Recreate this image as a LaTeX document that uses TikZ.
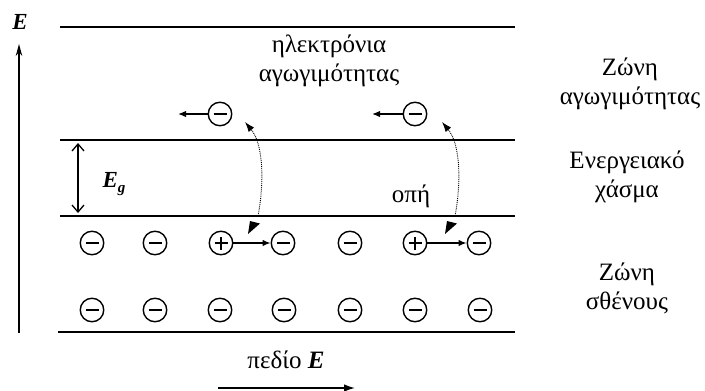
\documentclass[tikz,border=0pt]{standalone}
\usepackage{fontspec}
\setmainfont{Liberation Serif}
\usetikzlibrary{arrows.meta}
\tikzset{
  band/.style={line width=2.2pt},
  charge/.style={circle, draw, line width=1.4pt, minimum size=23.5pt, inner sep=0pt},
  negq/.style={charge, path picture={\draw[line width=1.4pt]
      ([xshift=-6.5pt]path picture bounding box.center) -- ([xshift=6.5pt]path picture bounding box.center);}},
  posq/.style={charge, path picture={\draw[line width=1.4pt]
      ([xshift=-6.5pt]path picture bounding box.center) -- ([xshift=6.5pt]path picture bounding box.center)
      ([yshift=-6.5pt]path picture bounding box.center) -- ([yshift=6.5pt]path picture bounding box.center);}},
  flow/.style={line width=1.4pt, -{Latex[length=8pt,width=6.5pt]}},
  jump/.style={line width=0.9pt, densely dotted, -{Latex[length=10pt,width=7pt]}},
  lbl/.style={font=\fontsize{25}{29}\selectfont, align=center, inner sep=0pt},
  sym/.style={font=\fontsize{23}{26}\selectfont\bfseries\itshape, inner sep=0pt},
}
\begin{document}
\begin{tikzpicture}[x=1pt,y=-1pt]
\useasboundingbox (0,0) rectangle (705,391);

% energy axis
\coordinate (axb) at (19,333);
\coordinate (axt) at (19,44);
\draw[line width=1.3pt, -{Stealth[length=12pt,width=6.5pt]}] (axb) -- (axt);
\node[sym] (E) at (20,22) {E};

% band edges
\coordinate (t1) at (60,27);  \coordinate (t2) at (515,27);
\coordinate (c1) at (60,140); \coordinate (c2) at (515,140);
\coordinate (v1) at (60,216); \coordinate (v2) at (515,216);
\coordinate (b1) at (58,332); \coordinate (b2) at (515,332);
\draw[band] (t1) -- (t2);
\draw[band] (c1) -- (c2);
\draw[band] (v1) -- (v2);
\draw[band] (b1) -- (b2);

% band gap
\coordinate (g1) at (78,143);
\coordinate (g2) at (78,213);
\draw[line width=1.3pt, {Straight Barb[length=7pt,width=12pt]}-{Straight Barb[length=7pt,width=12pt]}] (g1) -- (g2);
\node[sym] (Eg) at (114,184) {E\raisebox{-0.4ex}{\fontsize{15}{17}\selectfont g}};

% valence band charges, upper row
\node[negq] (a1) at (92,243) {};
\node[negq] (a2) at (155,243) {};
\node[posq] (a3) at (221,243) {};
\node[negq] (a4) at (283,243) {};
\node[negq] (a5) at (350,243) {};
\node[posq] (a6) at (415,243) {};
\node[negq] (a7) at (479,243) {};
% valence band charges, lower row
\node[negq] (r1) at (92,310) {};
\node[negq] (r2) at (155,310) {};
\node[negq] (r3) at (220,310) {};
\node[negq] (r4) at (284,310) {};
\node[negq] (r5) at (350,310) {};
\node[negq] (r6) at (415,310) {};
\node[negq] (r7) at (480,310) {};

% conduction electrons
\node[negq] (e1) at (220,114) {};
\node[negq] (e2) at (415,114) {};
\coordinate (e1t) at (178,114);
\coordinate (e2t) at (372,114);
\draw[flow] (e1) -- (e1t);
\draw[flow] (e2) -- (e2t);

% electrons moving into the holes
\draw[flow] (a3) -- (a4);
\draw[flow] (a6) -- (a7);

% excitation across the gap
\coordinate (s1) at (258,216);
\coordinate (f1) at (245,122);
\draw[jump] (s1) .. controls (264,185) and (264,145) .. (f1);
\coordinate (s2) at (455,216);
\coordinate (f2) at (442,122);
\draw[jump] (s2) .. controls (461,185) and (461,145) .. (f2);
\fill (250,221) -- (260,223.5) -- (248,234) -- cycle;
\fill (447,221) -- (457,223.5) -- (445,234) -- cycle;

% labels
\node[lbl] (ce) at (329,61) {ηλεκτρόνια\\αγωγιμότητας};
\node[lbl] (hole) at (411,196) {οπή};
\node[lbl] (cb) at (630,84) {Ζώνη\\αγωγιμότητας};
\node[lbl] (gap) at (627,177) {Ενεργειακό\\χάσμα};
\node[lbl] (vb) at (627,288) {Ζώνη\\σθένους};

% applied field
\node[lbl] (field) at (286,360) {πεδίο \bfseries\itshape E};
\coordinate (fa) at (218,388);
\coordinate (fb) at (355,388);
\draw[line width=1.4pt, -{Latex[length=11pt,width=7.5pt]}] (fa) -- (fb);
\end{tikzpicture}
\end{document}
